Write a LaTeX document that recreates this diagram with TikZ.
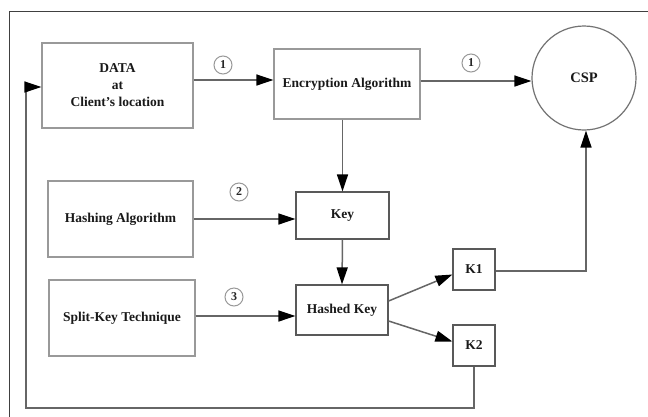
\documentclass[tikz,border=0pt]{standalone}
\usepackage{fontspec}
\setmainfont{Liberation Serif}
\usetikzlibrary{arrows.meta}
\tikzset{
  lightbox/.style={draw=black!40, line width=1.2pt, inner sep=0pt, align=center,
    font=\bfseries\fontsize{13.5}{17}\selectfont, text=black!90},
  darkbox/.style={draw=black!65, line width=1.2pt, inner sep=0pt, align=center,
    font=\bfseries\fontsize{13.5}{17}\selectfont, text=black!90},
  numlabel/.style={circle, draw=black!40, line width=1pt, minimum size=18pt, inner sep=0pt,
    font=\bfseries\fontsize{12}{12}\selectfont, text=black!85},
  conn/.style={draw=black!60, line width=1.5pt, -{Triangle[length=17pt,width=11pt,fill=black,color=black]}},
  plain/.style={draw=black!60, line width=1.5pt}
}
\begin{document}
\begin{tikzpicture}[x=1pt,y=-1pt]
\useasboundingbox (0,0) rectangle (648,416);
\clip (0,0) rectangle (648,416);
\fill[white] (0,0) rectangle (648,416);
% outer frame
\draw[black!75, line width=1pt] (9,11) rectangle (700,460);

% nodes
\node[lightbox, minimum width=151pt, minimum height=85pt] (data) at (117.5,85.5)
  {DATA\\at\\Client's location};
\node[lightbox, minimum width=146pt, minimum height=70pt] (enc) at (347,84) {Encryption Algorithm};
\node[circle, draw=black!55, line width=1.2pt, minimum size=104pt, inner sep=0pt,
  font=\bfseries\fontsize{14.5}{14.5}\selectfont, text=black!90] (csp) at (584,78) {CSP};
\node[lightbox, minimum width=145pt, minimum height=76pt] (hash) at (120.5,219) {Hashing Algorithm};
\node[darkbox, minimum width=93pt, minimum height=47pt] (key) at (342.5,215.5) {Key};
\node[lightbox, minimum width=146pt, minimum height=76pt] (split) at (122,318) {Split-Key Technique};
\node[darkbox, minimum width=92pt, minimum height=50pt] (hkey) at (342,310) {Hashed Key};
\node[darkbox, minimum width=42pt, minimum height=41pt] (k1) at (474,269.5) {K1};
\node[darkbox, minimum width=42pt, minimum height=41pt] (k2) at (474,345.5) {K2};

% number labels
\node[numlabel] (n1a) at (223,65) {1};
\node[numlabel] (n1b) at (471,63) {1};
\node[numlabel] (n2) at (239,192) {2};
\node[numlabel] (n3) at (234,297) {3};

% connectors
\draw[conn] ([yshift=5.5pt]data.east) -- ([yshift=5.5pt]data.east -| enc.west);
\draw[conn] ([yshift=3pt]enc.east) -- ([yshift=3pt]enc.east -| csp.west);
\draw[conn] (key.north |- enc.south) -- (key.north);
\draw[conn] (hash.east) -- (hash.east -| key.west);
\draw[conn] (key.south) -- (hkey.north);
\draw[conn] ([yshift=2pt]split.east) -- ([yshift=2pt]split.east -| hkey.west);
\draw[conn] ([yshift=9pt]hkey.east) -- ([yshift=-5pt]k1.west);
\draw[conn] ([yshift=-11pt]hkey.east) -- ([yshift=4pt]k2.west);
\coordinate (cspturn) at (586,271);
\draw[conn] ([yshift=-1.5pt]k1.east) -- (cspturn) -- (cspturn |- csp.south);
\coordinate (loopbl) at (26,408);
\draw[conn] (k2.south) |- (loopbl) |- ([yshift=-1.5pt]data.west);
\end{tikzpicture}
\end{document}
